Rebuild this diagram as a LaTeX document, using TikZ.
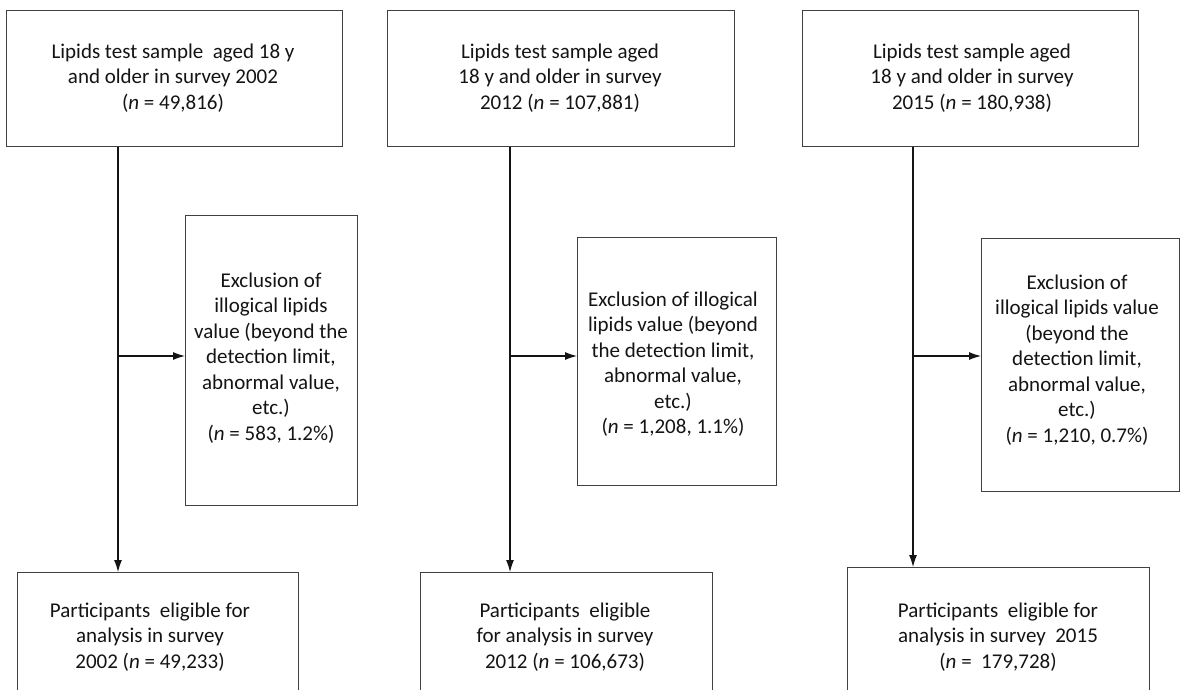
\documentclass[tikz,border=0pt]{standalone}
\usepackage{fontspec}
\setmainfont{Carlito}
\usetikzlibrary{arrows.meta}
\definecolor{boxgray}{HTML}{404040}
\definecolor{inkc}{HTML}{141414}
\tikzset{
  box/.style={draw=boxgray, line width=1.3pt, inner sep=0pt, anchor=north west},
  txt/.style={align=center, font=\fontsize{21}{25.5}\selectfont, inner sep=0pt, text=inkc},
  link/.style={draw=inkc, line width=1.1pt},
  arr/.style={link, -{Latex[length=12pt,width=8pt]}}
}
\begin{document}
\begin{tikzpicture}[x=1pt,y=-1pt]
\useasboundingbox[fill=white] (0,0) rectangle (1185,690);
\clip (0,0) rectangle (1185,690);
% top boxes
\node[box, minimum width=336pt, minimum height=136pt] (t1) at (6,10) {};
\node[box, minimum width=347pt, minimum height=136pt] (t2) at (387,10) {};
\node[box, minimum width=336pt, minimum height=136pt] (t3) at (802,10) {};
% exclusion boxes
\node[box, minimum width=172pt, minimum height=290pt] (e1) at (185,215) {};
\node[box, minimum width=199pt, minimum height=248pt] (e2) at (577,237) {};
\node[box, minimum width=198pt, minimum height=253pt] (e3) at (981,238) {};
% bottom boxes
\node[box, minimum width=281pt, minimum height=150pt] (b1) at (17,572) {};
\node[box, minimum width=292pt, minimum height=150pt] (b2) at (420,572) {};
\node[box, minimum width=302pt, minimum height=150pt] (b3) at (847,567) {};
% texts
\node[txt] (t1x) at (173,78) {Lipids test sample\ \ aged 18 y\\and older in survey 2002\\(\textit{n} = 49,816)};
\node[txt] (t2x) at (560,78) {Lipids test sample aged\\18 y and older in survey\\2012 (\textit{n} = 107,881)};
\node[txt] (t3x) at (972,78) {Lipids test sample aged\\18 y and older in survey\\2015 (\textit{n} = 180,938)};
\node[txt] (e1x) at (271,358) {Exclusion of\\illogical lipids\\value (beyond the\\detection limit,\\abnormal value,\\etc.)\\(\textit{n} = 583, 1.2\%)};
\node[txt] (e2x) at (673,364) {Exclusion of illogical\\lipids value (beyond\\the detection limit,\\abnormal value,\\etc.)\\(\textit{n} = 1,208, 1.1\%)};
\node[txt] (e3x) at (1077,360) {Exclusion of\\illogical lipids value\\(beyond the\\detection limit,\\abnormal value,\\etc.)\\(\textit{n} = 1,210, 0.7\%)};
\node[txt] (b1x) at (150,637) {Participants\ \ eligible for\\analysis in survey\\2002 (\textit{n} = 49,233)};
\node[txt] (b2x) at (565,637) {Participants\ \ eligible\\for analysis in survey\\2012 (\textit{n} = 106,673)};
\node[txt] (b3x) at (998,637) {Participants\ \ eligible for\\analysis in survey\ \ 2015\\(\textit{n} =\ \ 179,728)};
% junctions
\coordinate (j1) at (118,356);
\coordinate (j2) at (510,356);
\coordinate (j3) at (913,356);
% connectors
\draw[arr] (t1.south -| j1) -- (b1.north -| j1);
\draw[arr] (j1) -- (e1.west |- j1);
\draw[arr] (t2.south -| j2) -- (b2.north -| j2);
\draw[arr] (j2) -- (e2.west |- j2);
\draw[arr] (t3.south -| j3) -- (b3.north -| j3);
\draw[arr] (j3) -- (e3.west |- j3);
\end{tikzpicture}
\end{document}
